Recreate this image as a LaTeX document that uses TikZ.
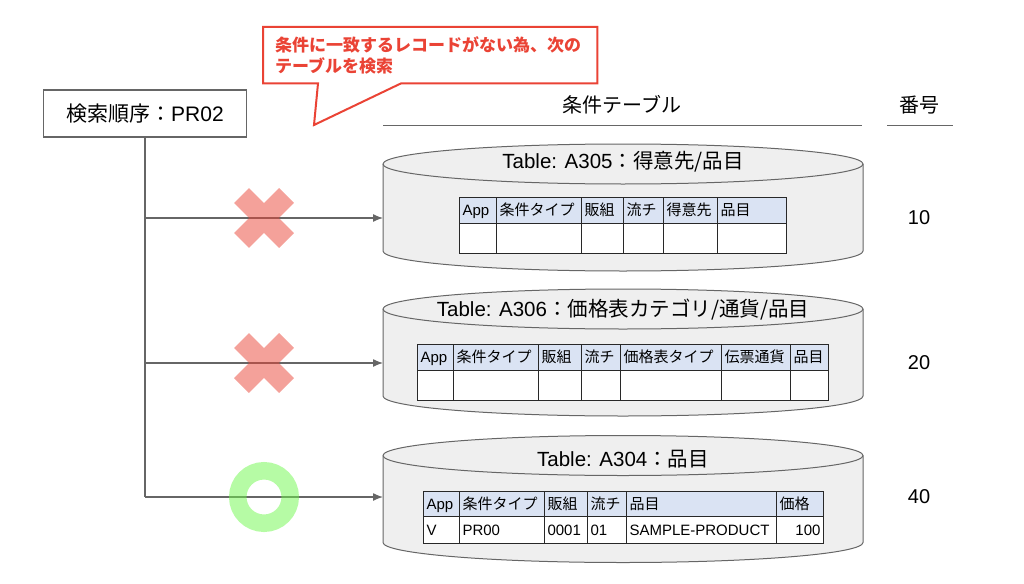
\documentclass[tikz,border=0pt]{standalone}
\usepackage{fontspec}
\setmainfont{Liberation Sans}
\newfontfamily\jp{Noto Sans CJK JP}
\usetikzlibrary{shapes, arrows.meta}
\definecolor{notered}{RGB}{234,67,53}
\definecolor{okgreen}{RGB}{110,248,75}
\definecolor{edgegray}{RGB}{102,102,102}
\definecolor{cylgray}{RGB}{239,239,239}
\definecolor{headblue}{RGB}{218,227,243}
\definecolor{cellline}{RGB}{40,40,40}
\tikzstyle{start} = [rectangle, draw=edgegray, line width=1.3, minimum width=203, minimum height=47, font=\fontsize{21}{25}\selectfont]
\tikzstyle{note} = [rectangle, anchor=north west, minimum width=334, minimum height=56, text width=310, inner xsep=12, align=left, text=notered, font=\jp\bfseries\fontsize{17}{21}\selectfont]
\tikzstyle{notebox} = [draw=notered, line width=2, line join=miter]
\tikzstyle{head} = [font=\fontsize{20}{24}\selectfont]
\tikzstyle{rule} = [draw=edgegray, line width=1]
\tikzstyle{store} = [rectangle, minimum width=480, minimum height=127, inner sep=0pt, outer sep=0pt]
\tikzstyle{drum} = [draw=edgegray, line width=1, fill=cylgray]
\tikzstyle{rim} = [draw=edgegray, line width=1]
\tikzstyle{title} = [font=\fontsize{20.5}{24}\selectfont]
\tikzstyle{field} = [rectangle, anchor=north west, draw=cellline, line width=1, fill=headblue, inner xsep=3, inner ysep=0, text height=12, text depth=1.3, font=\jp\fontsize{15}{18}\selectfont]
\tikzstyle{cell} = [rectangle, anchor=north west, draw=cellline, line width=1, fill=white, inner xsep=3, inner ysep=0, text height=12, text depth=1.3, font=\fontsize{15}{18}\selectfont]
\tikzstyle{num} = [font=\fontsize{20}{24}\selectfont]
\tikzstyle{wire} = [draw=edgegray, line width=1.3]
\tikzstyle{line} = [draw=edgegray, line width=1.3, -{Latex[length=10pt, width=8pt]}]
\tikzstyle{miss} = [cross out, draw=notered, draw opacity=0.5, line width=21, minimum size=45, inner sep=0pt, outer sep=0pt]
\tikzstyle{hit} = [circle, draw=okgreen, draw opacity=0.5, line width=17.5, minimum size=52.5, inner sep=0pt]

\begin{document}
\begin{tikzpicture}[x=1pt, y=-1pt]
  \useasboundingbox (0,0) rectangle (1024,583);
  %% nodes
  % search order and note
  \node [start] (order) at (145,113.5) {{\jp 検索順序：}PR02};
  \node [note] (note) at (263,27) {条件に一致するレコードがない為、次の\\テーブルを検索};
  \coordinate (tip) at (314,125);
  \path [notebox] (note.south west) -- (note.north west) -- (note.north east) -- (note.south east)
    -- ([xshift=138]note.south west) -- (tip) -- ([xshift=55]note.south west) -- cycle;
  % headings
  \node [head] (tables) at (622,105) {{\jp 条件テーブル}};
  \node [head] (numbers) at (919,105) {{\jp 番号}};
  \path [rule] (383,125) -- (862,125);
  \path [rule] (887,125) -- (953,125);
  % condition tables
  \node [store] (c305) at (623,207.5) {};
  \node [store] (c306) at (623,352.5) {};
  \node [store] (c304) at (623,499) {};
  \foreach \c in {c305, c306, c304} {
    \path [drum] ([yshift=-20]\c.north west) -- ([yshift=20]\c.south west)
      arc [start angle=180, end angle=360, x radius=240pt, y radius=20pt]
      -- ([yshift=-20]\c.north east)
      arc [start angle=0, end angle=180, x radius=240pt, y radius=20pt] -- cycle;
    \path [rim] ([yshift=-20]\c.north west) arc [start angle=180, end angle=360, x radius=240pt, y radius=20pt];
  }
  \node [title] (t305) at (623,162) {Table: A305{\jp ：得意先/品目}};
  \node [title] (t306) at (623,310) {Table: A306{\jp ：価格表カテゴリ/通貨/品目}};
  \node [title] (t304) at (623,459) {Table: A304{\jp ：品目}};
  % fields of A305
  \foreach \a/\b/\t [count=\i] in {459/496/\normalfont App, 496/581/条件タイプ, 581/623/販組,
      623/663/流チ, 663/717/得意先, 717/786/品目} {
    \pgfmathsetmacro\tw{\b-\a-6}
    \node [field, text width=\tw pt, minimum height=26] (f305-\i) at (\a,197) {\t};
    \node [cell, text width=\tw pt, minimum height=30] (v305-\i) at (\a,223) {};
  }
  % fields of A306
  \foreach \a/\b/\t [count=\i] in {417/453/\normalfont App, 453/538/条件タイプ, 538/581/販組,
      581/620/流チ, 620/721/価格表タイプ, 721/790/伝票通貨, 790/828/品目} {
    \pgfmathsetmacro\tw{\b-\a-6}
    \node [field, text width=\tw pt, minimum height=26] (f306-\i) at (\a,344) {\t};
    \node [cell, text width=\tw pt, minimum height=30] (v306-\i) at (\a,370) {};
  }
  % fields of A304 and the found record
  \foreach \a/\b/\t/\v/\al [count=\i] in {423/459/\normalfont App/V/left, 459/544/条件タイプ/PR00/left,
      544/587/販組/0001/left, 587/626/流チ/01/left, 626/776/品目/SAMPLE-PRODUCT/left, 776/823/価格/100/right} {
    \pgfmathsetmacro\tw{\b-\a-6}
    \node [field, text width=\tw pt, minimum height=25] (f304-\i) at (\a,491) {\t};
    \node [cell, text width=\tw pt, minimum height=27, align=\al] (v304-\i) at (\a,516) {\v};
  }
  % numbers
  \node [num] (n305) at (919,218) {10};
  \node [num] (n306) at (919,363) {20};
  \node [num] (n304) at (919,497) {40};
  %% edges
  \coordinate (b305) at (order.south |- 0,218);
  \coordinate (b306) at (order.south |- 0,363);
  \coordinate (b304) at (order.south |- 0,497);
  \path [wire] (order.south) -- (b304);
  \path [line] (b305) -- (b305 -| c305.west);
  \path [line] (b306) -- (b306 -| c306.west);
  \path [line] (b304) -- (b304 -| c304.west);
  % results
  \node [miss] (m305) at (264,218) {};
  \node [miss] (m306) at (264,363) {};
  \node [hit] (m304) at (264,497) {};
\end{tikzpicture}
\end{document}
